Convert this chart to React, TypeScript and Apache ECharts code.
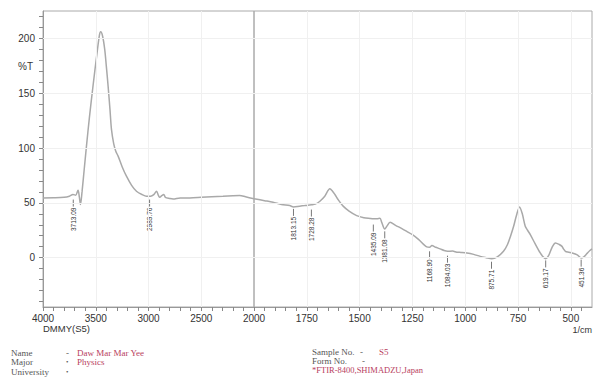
import React, { useEffect, useRef } from "react";
import * as echarts from "echarts";

const wavenumbers = [
  4000, 3900, 3800, 3750, 3716, 3690, 3668, 3655, 3645, 3630, 3610, 3588, 3560, 3526, 3490, 3465, 3453, 3435, 3415, 3400,
  3383, 3365, 3351, 3330, 3310, 3288, 3250, 3209, 3160, 3114, 3060, 3019, 2980, 2950, 2924, 2905, 2893, 2875, 2855, 2840,
  2800, 2767, 2700, 2608, 2500, 2400, 2294, 2200, 2136, 2080, 2000, 1950, 1910, 1870, 1831, 1813, 1784, 1760, 1728, 1710,
  1688, 1665, 1641, 1630, 1617, 1600, 1578, 1550, 1514, 1480, 1450, 1435, 1419, 1404, 1395, 1381, 1370, 1356, 1330, 1300,
  1277, 1250, 1220, 1182, 1169, 1158, 1140, 1119, 1100, 1084, 1060, 1040, 1020, 992, 960, 929, 900, 875, 850, 819,
  800, 785, 771, 757, 743, 730, 716, 705, 692, 670, 645, 630, 619, 605, 590, 573, 555, 542, 535, 526,
  510, 494, 470, 451, 440, 425, 410, 400,
];
const transmittance = [
  54.5, 54.6, 55, 56, 57.6, 57, 61.5, 55, 48.4, 60, 80, 101.7, 128, 156.6, 185, 203, 206, 202, 190, 175,
  156.6, 135, 117, 104, 97, 92.6, 83, 74.3, 66, 60.6, 57.5, 56, 56, 57.5, 60.6, 56.5, 55, 56.5, 57.6, 55,
  54, 53.5, 54.5, 54.5, 55, 55.5, 56, 56.5, 56.7, 55.5, 53.7, 52, 50.6, 48.5, 47.5, 46.3, 47, 47.5, 48.2, 48.8,
  51.5, 56, 62.8, 61, 57.6, 52.5, 47, 42.5, 38.4, 36.5, 35.8, 35.5, 35.4, 35.9, 32, 26.2, 29, 32.3, 29.5, 26.5,
  24, 21, 16.5, 9.8, 9.5, 11, 9.5, 8, 6.5, 5.8, 6, 5, 4.8, 4.3, 3, 1.2, 0, -0.9, 0.5, 5.8,
  12, 20, 28.6, 39, 46.3, 40, 28.6, 25, 21, 13, 4.3, 0.5, -0.9, 2, 9, 13.4, 12, 10.3, 8, 5.8,
  5, 4.3, 2.5, -0.3, 0.5, 3.5, 6.5, 8,
];

const peakWavenumbers = [3713.09, 2989.76, 1813.15, 1728.28, 1435.09, 1381.08, 1168.9, 1084.03, 875.71, 619.17, 451.36];
const peakMarkT = [53, 53, 44.5, 43.9, 30.2, 24, 5.8, 1.8, -3.7, -2.5, -1.8];

const yLabelValues = [0, 50, 100, 150, 200];
const yTickValues = [-40, -30, -20, -10, 0, 10, 20, 30, 40, 50, 60, 70, 80, 90, 100, 110, 120, 130, 140, 150, 160, 170, 180, 190, 200, 210, 220];
const xLeftLabels = [4000, 3500, 3000, 2500, 2000];
const xLeftTicks = [4000, 3900, 3800, 3700, 3600, 3500, 3400, 3300, 3200, 3100, 3000, 2900, 2800, 2700, 2600, 2500, 2400, 2300, 2200, 2100, 2000];
const xRightLabels = [1750, 1500, 1250, 1000, 750, 500];
const xRightTicks = [1950, 1900, 1850, 1800, 1750, 1700, 1650, 1600, 1550, 1500, 1450, 1400, 1350, 1300, 1250, 1200, 1150, 1100, 1050, 1000, 950, 900, 850, 800, 750, 700, 650, 600, 550, 500, 450];

const Y_MIN = -45;
const Y_MAX = 225;

export default function App() {
  const ref = useRef<HTMLDivElement>(null);
  useEffect(() => {
    if (!ref.current) return;
    const chart = echarts.init(ref.current, null, { renderer: "svg" });

    const leftData: number[][] = [];
    const rightData: number[][] = [];
    wavenumbers.forEach((w, i) => {
      if (w >= 2000) leftData.push([w, transmittance[i]]);
      if (w <= 2000) rightData.push([w, transmittance[i]]);
    });
    const leftPeaks: number[][] = [];
    const rightPeaks: number[][] = [];
    peakWavenumbers.forEach((w, i) => {
      (w >= 2000 ? leftPeaks : rightPeaks).push([w, peakMarkT[i]]);
    });

    const renderPeak = (_params: any, api: any) => {
      const w = api.value(0);
      const p = api.coord([w, api.value(1)]);
      return {
        type: "group",
        children: [
          {
            type: "line",
            shape: { x1: p[0], y1: p[1], x2: p[0], y2: p[1] + 7 },
            style: { stroke: "#555", lineWidth: 0.8 },
          },
          {
            type: "text",
            x: p[0],
            y: p[1] + 8,
            rotation: Math.PI / 2,
            style: {
              text: Number(w).toFixed(2),
              align: "right",
              verticalAlign: "middle",
              fontSize: 6.5,
              fontFamily: "Liberation Sans, Arial, sans-serif",
              fill: "#333",
            },
          },
        ],
      };
    };

    const gridLine = { color: "#f0f0f0", width: 1, type: "solid" as const };
    const leftMarks = [
      ...xLeftLabels.filter((v) => v !== 4000 && v !== 2000).map((v) => ({ xAxis: v })),
      ...yLabelValues.map((v) => ({ yAxis: v })),
    ];
    const rightMarks = [
      ...xRightLabels.map((v) => ({ xAxis: v })),
      ...yLabelValues.map((v) => ({ yAxis: v })),
    ];

    const sans = "Liberation Sans, Arial, sans-serif";
    const axisFont = { fontSize: 10, color: "#333", fontFamily: sans, lineHeight: 10 };
    const serif = "Liberation Serif, Times New Roman, serif";
    const red = "#b8405e";
    const grey = "#555";
    const info = (x: number, y: number, text: string, fill: string, fontSize = 9) => ({
      type: "text",
      x,
      y,
      style: { text, fontSize, lineHeight: 8, fill, fontFamily: serif, verticalAlign: "middle" },
    });
    const plain = (v: number) => String(v);

    chart.setOption({
      animation: false,
      backgroundColor: "#fff",
      grid: [
        { left: 43, top: 11, width: 211, height: 296, show: true, borderColor: "#aaa", borderWidth: 1 },
        { left: 254, top: 11, width: 338, height: 296, show: true, borderColor: "#aaa", borderWidth: 1 },
      ],
      xAxis: [
        {
          type: "value",
          gridIndex: 0,
          min: 2000,
          max: 4000,
          inverse: true,
          axisLine: { show: true, onZero: false, lineStyle: { color: "#999" } },
          axisTick: { show: true, length: 4, customValues: xLeftTicks, lineStyle: { color: "#888" } },
          axisLabel: { ...axisFont, margin: 6, customValues: xLeftLabels, formatter: plain },
          splitLine: { show: false },
        },
        {
          type: "value",
          gridIndex: 1,
          min: 400,
          max: 2000,
          inverse: true,
          axisLine: { show: true, onZero: false, lineStyle: { color: "#999" } },
          axisTick: { show: true, length: 4, customValues: xRightTicks, lineStyle: { color: "#888" } },
          axisLabel: { ...axisFont, margin: 6, customValues: xRightLabels, formatter: plain },
          splitLine: { show: false },
        },
      ],
      yAxis: [
        {
          type: "value",
          gridIndex: 0,
          min: Y_MIN,
          max: Y_MAX,
          axisLine: { show: true, onZero: false, lineStyle: { color: "#999" } },
          axisTick: { show: true, length: 4, customValues: yTickValues, lineStyle: { color: "#888" } },
          axisLabel: { ...axisFont, margin: 8, customValues: yLabelValues, formatter: plain },
          splitLine: { show: false },
        },
        {
          type: "value",
          gridIndex: 1,
          min: Y_MIN,
          max: Y_MAX,
          show: false,
          splitLine: { show: false },
        },
      ],
      series: [
        {
          type: "line",
          xAxisIndex: 0,
          yAxisIndex: 0,
          data: leftData,
          showSymbol: false,
          smooth: 0.3,
          lineStyle: { color: "#a9a9a9", width: 1.5 },
          markLine: { silent: true, symbol: "none", label: { show: false }, lineStyle: gridLine, data: leftMarks },
          z: 3,
        },
        {
          type: "line",
          xAxisIndex: 1,
          yAxisIndex: 1,
          data: rightData,
          showSymbol: false,
          smooth: 0.3,
          lineStyle: { color: "#a9a9a9", width: 1.5 },
          markLine: { silent: true, symbol: "none", label: { show: false }, lineStyle: gridLine, data: rightMarks },
          z: 3,
        },
        {
          type: "custom",
          xAxisIndex: 0,
          yAxisIndex: 0,
          data: leftPeaks,
          renderItem: renderPeak,
          clip: false,
          z: 4,
        },
        {
          type: "custom",
          xAxisIndex: 1,
          yAxisIndex: 1,
          data: rightPeaks,
          renderItem: renderPeak,
          clip: false,
          z: 4,
        },
      ],
      graphic: [
        { type: "text", x: 18, y: 66, style: { text: "%T", fontSize: 10, fill: "#333", fontFamily: sans, verticalAlign: "middle" } },
        { type: "text", x: 43, y: 328, style: { text: "DMMY(S5)", fontSize: 9.5, lineHeight: 9, fill: "#333", fontFamily: sans, verticalAlign: "middle" } },
        { type: "text", x: 592, y: 330, style: { text: "1/cm", fontSize: 9, lineHeight: 9, fill: "#333", fontFamily: sans, align: "right", verticalAlign: "middle" } },
        info(11, 352.5, "Name", grey),
        info(11, 362, "Major", grey),
        info(11, 372, "University", grey),
        info(66, 352.5, "-", grey),
        info(66, 362, "•", grey, 7),
        info(66, 372, "•", grey, 7),
        info(77, 352.5, "Daw Mar Mar Yee", red),
        info(77, 362, "Physics", red),
        info(312, 352, "Sample No.", grey),
        info(360, 352, "-", grey),
        info(379, 352, "S5", red),
        info(312, 361, "Form No.", grey),
        info(362, 361, "-", grey),
        info(312, 370, "*FTIR-8400,SHIMADZU,Japan", red, 8.5),
      ],
    });
    return () => chart.dispose();
  }, []);

  return <div ref={ref} style={{ position: "fixed", left: 0, top: 0, width: 595, height: 379 }} />;
}
